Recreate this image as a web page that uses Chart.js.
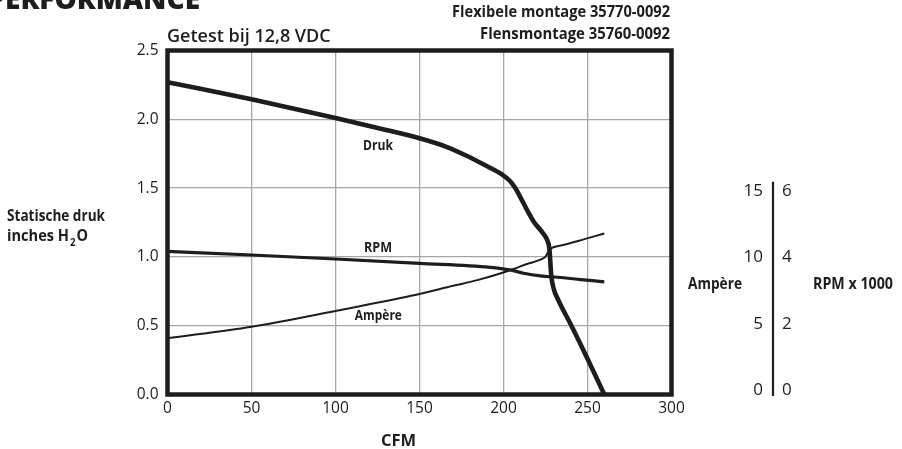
<!DOCTYPE html>
<html>
<head>
<meta charset="utf-8">
<script src="https://cdn.jsdelivr.net/npm/chart.js@4.4.1/dist/chart.umd.min.js"></script>
<style>
  html, body { margin: 0; padding: 0; background: #ffffff; }
  #wrap { width: 902px; height: 449px; position: relative; }
</style>
</head>
<body>
<div id="wrap"><canvas id="c" width="902" height="449"></canvas></div>
<script>
// Fan performance at 12.8 VDC: static pressure, current and speed versus airflow.

// Static pressure (inches H2O) versus airflow (CFM)
const drukCfm  = [0, 50, 100, 127, 150, 166, 178, 190, 199, 204, 207, 210, 214, 218, 223, 226, 227.3, 227.8, 228.4, 229.8, 232.6, 240, 250, 260];
const drukInch = [2.27, 2.145, 2.01, 1.932, 1.862, 1.80, 1.735, 1.66, 1.60, 1.55, 1.50, 1.435, 1.341, 1.256, 1.18, 1.123, 1.062, 0.977, 0.868, 0.772, 0.687, 0.51, 0.26, 0.0];

// Fan speed (RPM x 1000) versus airflow
const rpmCfm = [0, 50, 100, 150, 192, 204, 212, 222, 232, 246, 260];
const rpmK   = [4.18, 4.07, 3.95, 3.82, 3.70, 3.62, 3.52, 3.44, 3.40, 3.33, 3.26];

// Current draw (A) versus airflow
const ampCfm = [0, 50, 100, 145, 170, 185, 198, 206, 214, 222, 225, 227.3, 229.7, 235.6, 245, 260];
const ampA   = [3.9, 4.77, 5.96, 7.1, 7.85, 8.3, 8.78, 9.12, 9.5, 9.82, 10.05, 10.55, 10.76, 10.93, 11.25, 11.8];

// Tick values
const cfmTicks      = [0, 50, 100, 150, 200, 250, 300];
const pressureTicks = [0, 0.5, 1.0, 1.5, 2.0, 2.5];
const ampTicks      = [0, 5, 10, 15];
const rpmTicks      = [0, 2, 4, 6];

const INK = '#1f1c1d';
const GRID = '#a6a6a6';
const TICK_FONT = { family: '"Open Sans", "Noto Sans", sans-serif', size: 15.5, weight: '400' };
const BOLD = '"Open Sans", "Noto Sans", sans-serif';

const toPoints = (xs, ys) => xs.map((x, i) => ({ x: x, y: ys[i] }));

// Draws bold text narrowed horizontally to a given width (condensed look)
function condText(ctx, text, x, y, size, width, align) {
  ctx.save();
  ctx.font = '700 ' + size + 'px ' + BOLD;
  const w = ctx.measureText(text).width;
  const k = width / w;
  let left = x;
  if (align === 'right') left = x - width;
  else if (align === 'center') left = x - width / 2;
  ctx.translate(left, y);
  ctx.scale(k, 1);
  ctx.textAlign = 'left';
  ctx.fillText(text, 0, 0);
  ctx.restore();
  return width;
}

// Thick frame around the plotting area
const framePlugin = {
  id: 'frame',
  beforeDatasetsDraw(chart) {
    const { ctx, chartArea: a } = chart;
    ctx.save();
    ctx.strokeStyle = INK;
    ctx.lineWidth = 4.5;
    ctx.lineJoin = 'miter';
    ctx.strokeRect(a.left, a.top, a.right - a.left, a.bottom - a.top);
    ctx.restore();
  }
};

// Titles, axis captions, curve names and the combined Ampère / RPM scale
const textPlugin = {
  id: 'texts',
  afterDraw(chart) {
    const { ctx, scales } = chart;
    const sx = scales.x, sy = scales.y, sa = scales.yAmp, sr = scales.yRpm;
    ctx.save();
    ctx.fillStyle = INK;
    ctx.textBaseline = 'alphabetic';

    // Heading
    ctx.font = '800 28px "Open Sans", sans-serif';
    ctx.textAlign = 'right';
    ctx.fillText('PERFORMANCE', 200, 8.5);

    ctx.font = '600 18px "Open Sans", sans-serif';
    ctx.textAlign = 'left';
    ctx.fillText('Getest bij 12,8 VDC', 167, 41.5);

    condText(ctx, 'Flexibele montage 35770-0092', 670, 16.5, 15.5, 218, 'right');
    condText(ctx, 'Flensmontage 35760-0092', 670, 38.5, 15.5, 190, 'right');

    // Left caption with subscript
    condText(ctx, 'Statische druk', 7, 221, 16.5, 98, 'left');
    let x0 = 7;
    x0 += condText(ctx, 'inches H', x0, 241, 16.5, 62, 'left');
    condText(ctx, '2', x0 + 1, 245.5, 10, 5.5, 'left');
    x0 += 7.5;
    condText(ctx, 'O', x0, 241, 16.5, 11.5, 'left');

    // Bottom caption
    ctx.font = '700 16.5px "Open Sans", sans-serif';
    ctx.textAlign = 'center';
    ctx.fillText('CFM', 398.5, 446);

    // Curve names, anchored in data coordinates
    const lab = (t, cx, cy, w) => condText(ctx, t, sx.getPixelForValue(cx), sy.getPixelForValue(cy) + 5.5, 15, w, 'center');
    lab('Druk', 125.3, 1.817, 30);
    lab('RPM', 125.3, 1.072, 28);
    lab('Ampère', 125.5, 0.578, 47);

    // Combined secondary scale
    const axisX = 773;
    ctx.strokeStyle = INK;
    ctx.lineWidth = 2.2;
    ctx.beginPath();
    ctx.moveTo(axisX, sa.getPixelForValue(15.7));
    ctx.lineTo(axisX, sa.getPixelForValue(-0.45));
    ctx.stroke();

    ctx.textBaseline = 'middle';
    ctx.font = '400 17px ' + TICK_FONT.family;
    ctx.textAlign = 'right';
    ampTicks.forEach(v => ctx.fillText(String(v), axisX - 10, sa.getPixelForValue(v)));
    ctx.textAlign = 'left';
    rpmTicks.forEach(v => ctx.fillText(String(v), axisX + 9, sr.getPixelForValue(v)));

    ctx.textBaseline = 'alphabetic';
    condText(ctx, 'Ampère', 715, 289, 16, 54, 'center');
    condText(ctx, 'RPM x 1000', 853, 289, 16, 80, 'center');

    ctx.restore();
  }
};

const lineStyle = (w) => ({
  borderColor: INK,
  backgroundColor: INK,
  borderWidth: w,
  pointRadius: 0,
  pointHoverRadius: 0,
  fill: false,
  cubicInterpolationMode: 'monotone',
  borderCapStyle: 'butt',
  borderJoinStyle: 'round'
});

new Chart(document.getElementById('c'), {
  type: 'line',
  data: {
    datasets: [
      Object.assign({ label: 'Druk', data: toPoints(drukCfm, drukInch), yAxisID: 'y' }, lineStyle(4.6)),
      Object.assign({ label: 'RPM', data: toPoints(rpmCfm, rpmK), yAxisID: 'yRpm' }, lineStyle(3.2)),
      Object.assign({ label: 'Ampère', data: toPoints(ampCfm, ampA), yAxisID: 'yAmp' }, lineStyle(2.0))
    ]
  },
  options: {
    responsive: false,
    animation: false,
    devicePixelRatio: 1,
    layout: { padding: { top: 50.5, right: 230.5, bottom: 0, left: 0 } },
    plugins: {
      legend: { display: false },
      tooltip: { enabled: false },
      title: { display: false }
    },
    scales: {
      x: {
        type: 'linear',
        min: 0, max: 300,
        afterBuildTicks: s => { s.ticks = cfmTicks.map(v => ({ value: v })); },
        afterFit: s => { s.height = 449 - 394.5; },
        ticks: { font: TICK_FONT, color: INK, padding: 5, maxRotation: 0, autoSkip: false },
        grid: { color: GRID, lineWidth: 1.3, drawTicks: false },
        border: { display: false }
      },
      y: {
        type: 'linear',
        min: 0, max: 2.5,
        afterBuildTicks: s => { s.ticks = pressureTicks.map(v => ({ value: v })); },
        afterFit: s => { s.width = 167.5; },
        ticks: { font: TICK_FONT, color: INK, padding: 9, callback: v => Number(v).toFixed(1) },
        grid: { color: GRID, lineWidth: 1.3, drawTicks: false },
        border: { display: false }
      },
      // Secondary scales share the plot height; their labels are drawn by the texts plugin
      yAmp: { type: 'linear', position: 'right', display: false, min: -0.34, max: 25.59 },
      yRpm: { type: 'linear', position: 'right', display: false, min: -0.135, max: 10.235 }
    }
  },
  plugins: [framePlugin, textPlugin]
});
</script>
</body>
</html>
